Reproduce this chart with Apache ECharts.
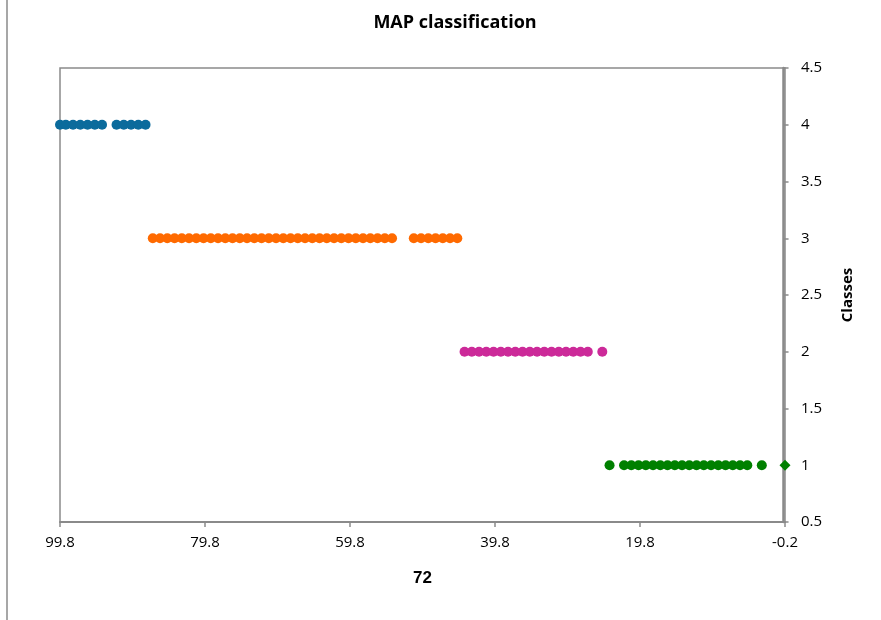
<!DOCTYPE html>
<html>
<head>
<meta charset="utf-8">
<script src="https://cdn.jsdelivr.net/npm/echarts@6/dist/echarts.min.js"></script>
<style>
  html, body { margin: 0; padding: 0; background: #fff; }
  #chart { width: 881px; height: 620px; }
</style>
</head>
<body>
<div id="chart"></div>
<script>
// x values (72) for each class
const class4X = [99.8, 99, 98, 97, 96, 95, 94, 92, 91, 90, 89, 88]
const class3X = [87, 86, 85, 84, 83, 82, 81, 80, 79, 78, 77, 76, 75, 74, 73, 72, 71,
  70, 69, 68, 67, 66, 65, 64, 63, 62, 61, 60, 59, 58, 57, 56, 55, 54,
  51, 50, 49, 48, 47, 46, 45]
const class2X = [44, 43, 42, 41, 40, 39, 38, 37, 36, 35, 34, 33, 32, 31, 30, 29, 28, 27, 25]
const class1X = [24, 22, 21, 20, 19, 18, 17, 16, 15, 14, 13, 12, 11, 10, 9, 8, 7, 6, 5, 3]
const class1Last = [-0.2]

const classColors = ['#0b6b9c', '#ff6a00', '#cc2a99', '#008000']

function pts (xs, cls) {
  return xs.map(x => [x, cls])
}

let chart = echarts.init(document.getElementById('chart'))

const axisGray = '#8a8a8a'
const labelFont = { color: '#000', fontSize: 15, fontFamily: 'Open Sans' }

chart.setOption({
  animation: false,
  title: {
    text: 'MAP classification',
    left: 450,
    textAlign: 'center',
    top: 9,
    textStyle: { fontSize: 18, fontWeight: 'bold', fontFamily: 'Open Sans', color: '#000' }
  },
  graphic: [{
    type: 'line',
    shape: { x1: 7, y1: 0, x2: 7, y2: 620 },
    style: { stroke: axisGray, lineWidth: 1.5 }
  }],
  grid: {
    left: 60,
    right: 96,
    top: 68,
    bottom: 98,
    show: true,
    borderColor: axisGray,
    borderWidth: 1.5
  },
  xAxis: {
    type: 'value',
    inverse: true,
    min: -0.2,
    max: 99.8,
    interval: 20,
    name: '72',
    nameLocation: 'middle',
    nameGap: 48,
    nameTextStyle: { fontSize: 17, fontWeight: 'bold', fontFamily: 'Liberation Sans', color: '#000' },
    axisLine: { lineStyle: { color: axisGray, width: 2 } },
    axisTick: { length: 5, lineStyle: { color: axisGray, width: 1.5 } },
    axisLabel: Object.assign({ margin: 13, formatter: v => v.toFixed(1) }, labelFont),
    splitLine: { show: false }
  },
  yAxis: {
    type: 'value',
    position: 'right',
    min: 0.5,
    max: 4.5,
    interval: 0.5,
    name: 'Classes',
    nameLocation: 'middle',
    nameRotate: 90,
    nameGap: 55,
    nameTextStyle: { fontSize: 15, fontWeight: 'bold', fontFamily: 'Open Sans', color: '#000' },
    axisLine: { show: true, lineStyle: { color: axisGray, width: 2.5 } },
    axisTick: { show: true, length: 5, lineStyle: { color: axisGray, width: 1.5 } },
    axisLabel: Object.assign({ margin: 16 }, labelFont),
    splitLine: { show: false }
  },
  series: [
    { name: '4', type: 'scatter', symbolSize: 10, clip: false, data: pts(class4X, 4), itemStyle: { color: classColors[0], opacity: 1 } },
    { name: '3', type: 'scatter', symbolSize: 10, clip: false, data: pts(class3X, 3), itemStyle: { color: classColors[1], opacity: 1 } },
    { name: '2', type: 'scatter', symbolSize: 10, clip: false, data: pts(class2X, 2), itemStyle: { color: classColors[2], opacity: 1 } },
    { name: '1', type: 'scatter', symbolSize: 10, clip: false, data: pts(class1X, 1), itemStyle: { color: classColors[3], opacity: 1 } },
    { name: '1b', type: 'scatter', symbol: 'diamond', symbolSize: 11, clip: false, data: pts(class1Last, 1), itemStyle: { color: classColors[3], opacity: 1 } }
  ]
})
</script>
</body>
</html>
